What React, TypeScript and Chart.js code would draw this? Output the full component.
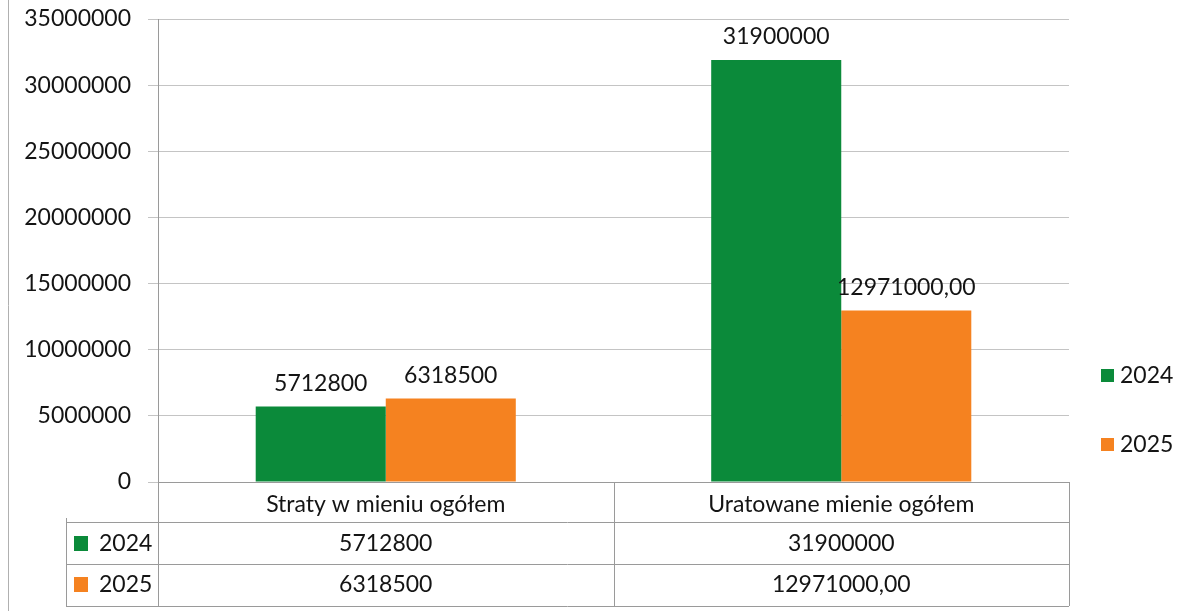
import React, { useEffect, useRef } from "react";
import { Chart, registerables } from "chart.js";

Chart.register(...registerables);

const categories = ["Straty w mieniu ogółem", "Uratowane mienie ogółem"];
const seriesNames = ["2024", "2025"];
const values2024 = [5712800, 31900000];
const values2025 = [6318500, 12971000];
const labels2024 = ["5712800", "31900000"];
const labels2025 = ["6318500", "12971000,00"];
const yTicks = [0, 5000000, 10000000, 15000000, 20000000, 25000000, 30000000, 35000000];

const GREEN = "#0b8a3a";
const ORANGE = "#f58220";
const FONT = "Lato, 'Open Sans', sans-serif";
const FS = 23;
const TEXT = "#141414";

const extrasPlugin = {
  id: "extras",
  afterDatasetsDraw(chart: any) {
    const ctx = chart.ctx;
    const texts = [labels2024, labels2025];
    ctx.save();
    ctx.font = `${FS}px ${FONT}`;
    ctx.fillStyle = TEXT;
    ctx.textAlign = "center";
    ctx.textBaseline = "middle";
    chart.data.datasets.forEach((ds: any, di: number) => {
      const meta = chart.getDatasetMeta(di);
      meta.data.forEach((bar: any, i: number) => {
        ctx.fillText(texts[di][i], bar.x, bar.y - 23);
      });
    });
    ctx.restore();
  },
  afterDraw(chart: any) {
    const ctx = chart.ctx;
    const area = chart.chartArea;
    const x = chart.scales.x;
    const left = area.left;
    const right = area.right;
    const bottom = area.bottom;
    const tableLeft = 66;
    const r1 = bottom + 40;
    const r2 = r1 + 42;
    const r3 = r2 + 42;
    const n = categories.length;
    const colW = (right - left) / n;
    ctx.save();
    // frame of the scan
    ctx.strokeStyle = "#b0b0b0";
    ctx.lineWidth = 1;
    ctx.beginPath();
    ctx.moveTo(8.5, 0);
    ctx.lineTo(8.5, 611);
    ctx.stroke();

    // table lines
    ctx.strokeStyle = "#9a9a9a";
    ctx.lineWidth = 1;
    ctx.beginPath();
    [r1, r2, r3].forEach((y) => {
      ctx.moveTo(tableLeft, Math.round(y) + 0.5);
      ctx.lineTo(right, Math.round(y) + 0.5);
    });
    ctx.moveTo(tableLeft + 0.5, r1 - 4);
    ctx.lineTo(tableLeft + 0.5, r3);
    for (let i = 0; i <= n; i++) {
      const xx = Math.round(left + colW * i) + 0.5;
      ctx.moveTo(xx, bottom);
      ctx.lineTo(xx, r3);
    }
    ctx.stroke();

    // table text
    ctx.font = `${FS}px ${FONT}`;
    ctx.fillStyle = TEXT;
    ctx.textBaseline = "middle";
    ctx.textAlign = "center";
    const rowVals = [labels2024, labels2025];
    categories.forEach((c, i) => {
      const cx = x.getPixelForValue(i);
      ctx.fillText(c, cx, bottom + 23);
      rowVals.forEach((rv, ri) => {
        ctx.fillText(rv[i], cx, ri === 0 ? r1 + 22 : r2 + 21);
      });
    });
    const colors = [GREEN, ORANGE];
    ctx.textAlign = "left";
    seriesNames.forEach((s, ri) => {
      const cy = ri === 0 ? r1 + 22 : r2 + 21;
      ctx.fillStyle = colors[ri];
      ctx.fillRect(74, cy - 8, 14, 15);
      ctx.fillStyle = TEXT;
      ctx.fillText(s, 99, cy);
    });

    // legend on the right
    seriesNames.forEach((s, ri) => {
      const cy = ri === 0 ? 376 : 445;
      ctx.fillStyle = colors[ri];
      ctx.fillRect(1101, cy - 7, 13, 13);
      ctx.fillStyle = TEXT;
      ctx.fillText(s, 1120, cy);
    });
    ctx.restore();
  },
};

export default function App() {
  const ref = useRef<HTMLCanvasElement | null>(null);
  useEffect(() => {
    document.body.style.margin = "0";
    if (!ref.current) return;
    const chart = new Chart(ref.current, {
      type: "bar",
      data: {
        labels: categories,
        datasets: [
          { label: seriesNames[0], data: values2024, backgroundColor: GREEN, borderWidth: 0 },
          { label: seriesNames[1], data: values2025, backgroundColor: ORANGE, borderWidth: 0 },
        ],
      },
      options: {
        animation: false,
        responsive: false,
        maintainAspectRatio: false,
        layout: { padding: { left: 0, right: 133, top: 19, bottom: 0 } },
        plugins: {
          legend: { display: false },
          tooltip: { enabled: false },
        },
        datasets: {
          bar: { barPercentage: 1, categoryPercentage: 0.571 },
        },
        scales: {
          x: {
            grid: { display: false },
            ticks: { display: false },
            border: { display: true, color: "#9a9a9a" },
            afterFit: (s: any) => {
              s.height = 129;
              s.paddingLeft = 0;
              s.paddingRight = 0;
            },
          },
          y: {
            min: 0,
            max: 35000000,
            afterBuildTicks: (s: any) => {
              s.ticks = yTicks.map((v) => ({ value: v }));
            },
            ticks: {
              font: { family: FONT, size: FS },
              color: TEXT,
              padding: 17,
              callback: (v: any) => String(v),
            },
            grid: { color: "#c4c4c4", tickLength: 10 },
            border: { display: true, color: "#9a9a9a" },
            afterFit: (s: any) => {
              s.width = 158;
              s.paddingTop = 0;
              s.paddingBottom = 0;
            },
          },
        },
      },
      plugins: [extrasPlugin],
    });
    return () => chart.destroy();
  }, []);
  return <canvas ref={ref} width={1202} height={611} style={{ display: "block" }} />;
}
